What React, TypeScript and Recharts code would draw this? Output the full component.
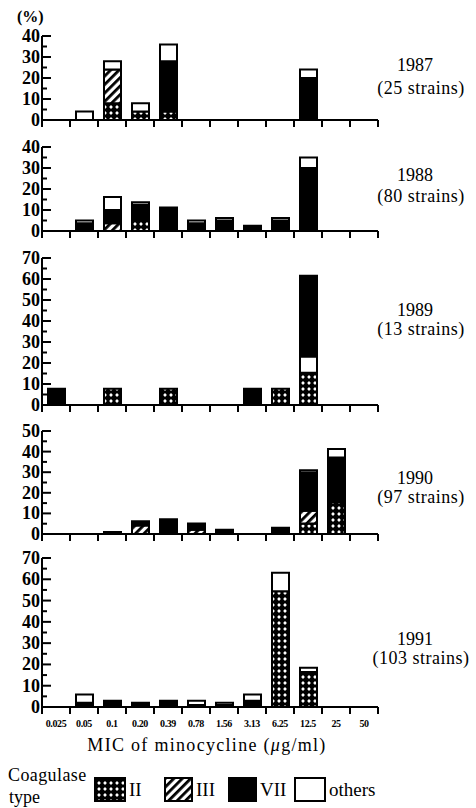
import React from 'react';
import { BarChart, Bar, XAxis, YAxis } from 'recharts';

const categories = ['0.025', '0.05', '0.1', '0.20', '0.39', '0.78', '1.56', '3.13', '6.25', '12.5', '25', '50'];

// 1987 (25 strains)
const ii1987 = [0, 0, 8, 4, 4, 0, 0, 0, 0, 0, 0, 0];
const iii1987 = [0, 0, 16, 0, 0, 0, 0, 0, 0, 0, 0, 0];
const vii1987 = [0, 0, 0, 0, 24, 0, 0, 0, 0, 20, 0, 0];
const oth1987 = [0, 4, 4, 4, 8, 0, 0, 0, 0, 4, 0, 0];

// 1988 (80 strains)
const ii1988 = [0, 0, 0, 5, 0, 0, 0, 0, 0, 0, 0, 0];
const iii1988 = [0, 0, 3.75, 0, 0, 0, 0, 0, 0, 0, 0, 0];
const vii1988 = [0, 3.75, 6.25, 7.5, 11.25, 3.75, 5, 2.5, 5, 30, 0, 0];
const oth1988 = [0, 1.25, 6.25, 1.25, 0, 1.25, 1.25, 0, 1.25, 5, 0, 0];

// 1989 (13 strains)
const ii1989 = [0, 0, 7.69, 0, 7.69, 0, 0, 0, 7.69, 15.38, 0, 0];
const iii1989 = [0, 0, 0, 0, 0, 0, 0, 0, 0, 0, 0, 0];
const vii1989 = [7.69, 0, 0, 0, 0, 0, 0, 7.69, 0, 38.46, 0, 0];
const oth1989 = [0, 0, 0, 0, 0, 0, 0, 0, 0, 7.69, 0, 0];

// 1990 (97 strains)
const ii1990 = [0, 0, 0, 0, 0, 0, 0, 0, 1.03, 5.15, 15.46, 0];
const iii1990 = [0, 0, 0, 4.12, 0, 2.06, 0, 0, 0, 6.19, 0, 0];
const vii1990 = [0, 0, 1.03, 2.06, 6.19, 3.09, 2.06, 0, 2.06, 18.56, 21.65, 0];
const oth1990 = [0, 0, 0, 0, 1.03, 0, 0, 0, 0, 1.03, 4.12, 0];

// 1991 (103 strains)
const ii1991 = [0, 0, 0, 0, 0, 0, 0, 0, 54.37, 16.5, 0, 0];
const iii1991 = [0, 0, 0, 0, 0, 0, 0, 0, 0, 0, 0, 0];
const vii1991 = [0, 1.94, 2.91, 1.94, 1.94, 0.97, 0.97, 2.91, 0, 0, 0, 0];
const oth1991 = [0, 3.88, 0, 0, 0.97, 1.94, 0.97, 2.91, 8.74, 1.94, 0, 0];

const yearLabels = ['1987', '1988', '1989', '1990', '1991'];
const strainLabels = ['(25 strains)', '(80 strains)', '(13 strains)', '(97 strains)', '(103 strains)'];
const yMax = [40, 40, 70, 50, 70];
const legendNames = ['II', 'III', 'VII', 'others'];

// stacking order (bottom to top) per panel
const stackOrders = [
  ['ii', 'iii', 'vii', 'oth'],
  ['ii', 'iii', 'vii', 'oth'],
  ['ii', 'iii', 'oth', 'vii'],
  ['ii', 'iii', 'vii', 'oth'],
  ['ii', 'iii', 'vii', 'oth'],
];

const SERIF = '"Liberation Serif", "Times New Roman", serif';

const makeRows = (ii: number[], iii: number[], vii: number[], oth: number[]) =>
  categories.map((c, i) => ({ cat: c, ii: ii[i], iii: iii[i], vii: vii[i], oth: oth[i] }));

const panelRows = [
  makeRows(ii1987, iii1987, vii1987, oth1987),
  makeRows(ii1988, iii1988, vii1988, oth1988),
  makeRows(ii1989, iii1989, vii1989, oth1989),
  makeRows(ii1990, iii1990, vii1990, oth1990),
  makeRows(ii1991, iii1991, vii1991, oth1991),
];

const layout = [
  { top: 36, h: 84 },
  { top: 147, h: 84 },
  { top: 258, h: 147 },
  { top: 431, h: 103 },
  { top: 558, h: 149 },
];
const yearPos = [
  { y1: 71, y2: 94 },
  { y1: 181, y2: 202 },
  { y1: 316, y2: 335 },
  { y1: 484, y2: 503 },
  { y1: 645, y2: 664 },
];

const seriesFill: Record<string, string> = {
  ii: 'url(#patII)',
  iii: 'url(#patIII)',
  vii: '#000',
  oth: '#fff',
};

const HALF = 14;

const YTick = (props: any) => {
  const { x, y, payload } = props;
  const v = payload.value;
  const major = v % 10 === 0;
  return (
    <g>
      <line x1={x} y1={y} x2={x + (major ? 9 : 5)} y2={y} stroke="#000" strokeWidth={2} />
      {major && (
        <text x={x - 2} y={y} dy={6} textAnchor="end" fontFamily={SERIF} fontWeight="bold" fontSize={18} fill="#000">
          {v}
        </text>
      )}
    </g>
  );
};

const makeXTick = (showLabels: boolean) => (props: any) => {
  const { x, y, payload, index } = props;
  const last = index === categories.length - 1;
  return (
    <g>
      <line x1={x - HALF} y1={y} x2={x - HALF} y2={y + 7} stroke="#000" strokeWidth={2} />
      {last && <line x1={x + HALF} y1={y} x2={x + HALF} y2={y + 7} stroke="#000" strokeWidth={2} />}
      {showLabels && (
        <text x={x} y={y + 20} textAnchor="middle" fontFamily={SERIF} fontWeight="bold" fontSize={10} letterSpacing={-0.4} fill="#000">
          {payload.value}
        </text>
      )}
    </g>
  );
};

const Panel = ({ idx }: { idx: number }) => {
  const { top, h } = layout[idx];
  const max = yMax[idx];
  const ticks: number[] = [];
  for (let v = 0; v <= max; v += 5) ticks.push(v);
  const last = idx === 4;
  const xh = last ? 48 : 10;
  return (
    <div style={{ position: 'absolute', top: top - 10, left: 0 }}>
      <BarChart width={476} height={10 + h + xh} data={panelRows[idx]} margin={{ top: 10, right: 98, bottom: 0, left: 0 }}>
        <XAxis
          dataKey="cat"
          interval={0}
          height={xh}
          axisLine={{ stroke: '#000', strokeWidth: 2 }}
          tickLine={false}
          tickSize={0}
          tickMargin={0}
          tick={makeXTick(last)}
        />
        <YAxis
          type="number"
          domain={[0, max]}
          ticks={ticks}
          interval={0}
          width={42}
          allowDataOverflow
          axisLine={{ stroke: '#000', strokeWidth: 2 }}
          tickLine={false}
          tickSize={0}
          tickMargin={0}
          tick={YTick}
        />
        {stackOrders[idx].map((k) => (
          <Bar key={k} dataKey={k} stackId="s" fill={seriesFill[k]} stroke="#000" strokeWidth={2} barSize={17} isAnimationActive={false} />
        ))}
      </BarChart>
    </div>
  );
};

const legendFills = ['url(#patII)', 'url(#patIII)', '#000', '#fff'];
const legendBoxX = [95, 165, 229, 295];
const legendBoxW = [30, 27, 27, 30];

export default function App() {
  return (
    <div style={{ position: 'absolute', top: 0, left: 0, width: 476, height: 808, background: '#fff' }}>
      <svg width={0} height={0} style={{ position: 'absolute' }}>
        <defs>
          <pattern id="patII" patternUnits="userSpaceOnUse" width={6} height={6}>
            <rect width={6} height={6} fill="#000" />
            <path d="M3 1.1 L4.9 3 L3 4.9 L1.1 3 Z" fill="#fff" />
          </pattern>
          <pattern id="patIII" patternUnits="userSpaceOnUse" width={6} height={6} patternTransform="rotate(45)">
            <rect width={6} height={6} fill="#fff" />
            <rect width={2.8} height={6} fill="#000" />
          </pattern>
        </defs>
      </svg>
      {[0, 1, 2, 3, 4].map((i) => (
        <Panel key={i} idx={i} />
      ))}
      <svg width={476} height={808} style={{ position: 'absolute', top: 0, left: 0, pointerEvents: 'none' }}>
        <text x={17} y={22} fontFamily={SERIF} fontWeight="bold" fontSize={16} fill="#000">(%)</text>
        {yearLabels.map((t, i) => (
          <g key={t}>
            <text x={415} y={yearPos[i].y1} textAnchor="middle" fontFamily={SERIF} fontSize={18} fill="#000">{t}</text>
            <text x={421} y={yearPos[i].y2} textAnchor="middle" fontFamily={SERIF} fontSize={18} letterSpacing={0.5} fill="#000">{strainLabels[i]}</text>
          </g>
        ))}
        <text x={207} y={751} textAnchor="middle" fontFamily={SERIF} fontSize={18} letterSpacing={1.3} fill="#000">
          MIC of minocycline (<tspan fontStyle="italic">μ</tspan>g/ml)
        </text>
        <text x={8} y={781} fontFamily={SERIF} fontSize={18} letterSpacing={0.4} fill="#000">Coagulase</text>
        <text x={9} y={803} fontFamily={SERIF} fontSize={18} fill="#000">type</text>
        {legendNames.map((n, i) => (
          <g key={n}>
            <rect x={legendBoxX[i]} y={778} width={legendBoxW[i]} height={23} fill={legendFills[i]} stroke="#000" strokeWidth={2} />
            <text x={legendBoxX[i] + legendBoxW[i] + 4} y={796} fontFamily={SERIF} fontSize={19} fill="#000">{n}</text>
          </g>
        ))}
      </svg>
    </div>
  );
}
